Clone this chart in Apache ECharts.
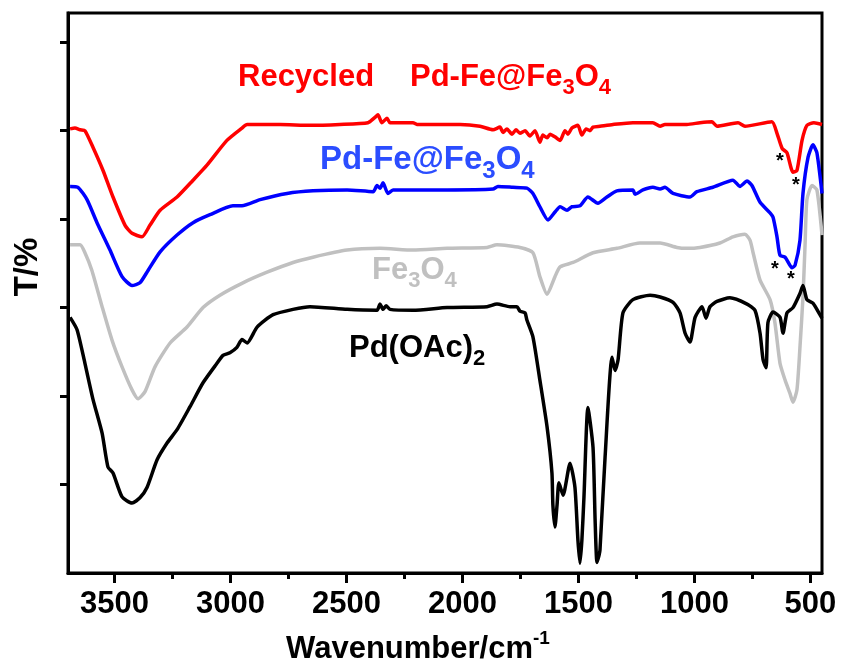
<!DOCTYPE html>
<html>
<head>
<meta charset="utf-8">
<script src="https://cdn.jsdelivr.net/npm/echarts@6/dist/echarts.min.js"></script>
<style>
  html, body { margin: 0; padding: 0; background: #ffffff; }
  #chart { width: 842px; height: 665px; }
</style>
</head>
<body>
<div id="chart"></div>
<script>
// FTIR transmittance spectra (arbitrary offset units), wavenumber in cm^-1

const recycledWn = [3691,3670,3648,3627,3592,3549,3506,3454,3424,3381,3347,3303,3230,3161,3101,3015,2950,2928,2786,2657,2528,2407,2377,2364,2347,2325,2312,2213,2196,2010,1924,1868,1838,1825,1808,1786,1769,1752,1730,1709,1687,1666,1653,1635,1622,1601,1579,1558,1545,1528,1502,1485,1467,1450,1437,1407,1351,1265,1179,1148,1127,1032,976,924,903,812,782,666,644,622,601,575,558,536,515,485,450];
const recycledT  = [502,503,501,500,481,455,425,393,384,380,393,410,425,444,461,489,503,507,507,506,507,509,515,518,509,514,509,509,507,507,505,501,504,498,502,496,501,497,500,494,500,487,495,492,496,493,489,500,496,503,506,495,502,500,504,505,507,509,509,505,507,507,509,510,505,509,505,510,497,480,475,453,455,489,506,509,507];

const catalystWn = [3691,3657,3618,3575,3519,3467,3424,3390,3355,3303,3230,3161,3088,2989,2950,2872,2756,2644,2497,2385,2368,2355,2342,2321,2299,2066,1868,1847,1782,1722,1696,1666,1631,1601,1579,1549,1528,1493,1459,1416,1377,1334,1265,1256,1222,1179,1148,1127,1092,1019,989,920,834,804,773,752,717,674,661,644,631,609,579,566,545,532,510,489,472,450];
const catalystT  = [437,436,422,396,365,335,325,328,342,363,382,396,405,415,415,422,429,432,433,431,438,435,441,429,433,433,434,437,436,435,429,414,399,408,414,410,414,415,425,418,425,432,433,428,433,436,434,436,429,425,431,436,444,437,443,438,419,407,402,380,359,357,345,348,376,429,470,484,475,429];

const magnetiteWn = [3691,3648,3627,3597,3553,3510,3467,3424,3398,3368,3325,3260,3187,3118,3045,2946,2842,2730,2644,2497,2355,2213,2066,1894,1851,1752,1696,1666,1635,1601,1579,1523,1437,1334,1235,1148,1075,1032,976,890,834,782,760,747,717,674,653,631,609,588,575,558,545,532,523,515,493,472,450];
const magnetiteT  = [371,371,362,342,301,263,233,207,197,205,233,260,278,300,314,328,340,351,357,365,367,365,367,368,371,368,362,335,315,335,346,351,362,367,373,373,368,367,368,373,380,383,376,362,331,309,283,237,218,203,193,207,255,312,371,422,438,433,382];

const acetateWn = [3691,3661,3627,3592,3553,3528,3506,3467,3424,3390,3359,3316,3273,3230,3174,3118,3058,3032,3002,2972,2950,2928,2885,2816,2730,2657,2497,2368,2355,2342,2329,2312,2213,2066,1894,1851,1795,1765,1752,1730,1722,1696,1666,1635,1614,1610,1601,1592,1584,1566,1536,1515,1502,1493,1485,1476,1459,1437,1428,1420,1411,1407,1385,1355,1342,1329,1308,1265,1191,1148,1092,1062,1040,1019,997,967,950,933,903,847,773,739,717,704,691,683,661,631,618,601,575,545,532,515,489,459,450];
const acetateT  = [289,275,237,196,158,120,113,86,79,85,97,128,147,162,188,215,237,246,249,255,264,260,278,292,298,301,298,297,304,298,302,298,297,300,301,304,301,301,296,294,286,267,218,165,113,77,52,77,102,88,124,97,37,11,37,86,187,142,60,12,20,26,131,244,229,241,294,309,314,312,306,294,271,261,289,301,288,301,307,311,304,297,271,241,232,283,295,289,271,294,300,316,325,309,305,292,288];

const xMajorTicks = [3500, 3000, 2500, 2000, 1500, 1000, 500];
const xMinorTicks = [3250, 2750, 2250, 1750, 1250, 750];
const yTicks = [100, 200, 300, 400, 500, 600];

const FONT = '"Liberation Sans", Arial, Helvetica, sans-serif';
const RED = '#ff0000', BLUE = '#0000ff', GRAY = '#c0c0c0', BLACK = '#000000';
const LABEL_BLUE = '#2b4dff';

function pairs(xs, ys) { return xs.map((x, i) => [x, ys[i]]); }

function spectrum(name, xs, ys, color, z) {
  return {
    name: name, type: 'line', data: pairs(xs, ys),
    showSymbol: false, smooth: 0.2, z: z,
    lineStyle: { color: color, width: 3.5 },
    emphasis: { disabled: true }
  };
}

// main text plus subscripts/superscripts, rendered as rich text
function richStyle(size, color) {
  return {
    m: { fontSize: size, fontWeight: 'bold', fontFamily: FONT, fill: color },
    s: { fontSize: Math.round(size * 0.72), fontWeight: 'bold', fontFamily: FONT, fill: color, padding: [22, 0, 0, 0] },
    p: { fontSize: Math.round(size * 0.62), fontWeight: 'bold', fontFamily: FONT, fill: color, padding: [0, 0, 20, 0] }
  };
}

function label(x, y, text, size, color) {
  return {
    type: 'text', x: x, y: y, z: 100,
    style: { text: text, rich: richStyle(size, color), align: 'left', verticalAlign: 'middle' }
  };
}

function star(x, y) {
  return {
    type: 'text', x: x, y: y, z: 100,
    style: { text: '*', fontSize: 20, fontWeight: 'bold', fontFamily: FONT, fill: BLACK, align: 'center', verticalAlign: 'middle' }
  };
}

const chart = echarts.init(document.getElementById('chart'), null, { renderer: 'canvas' });

chart.setOption({
  animation: false,
  backgroundColor: '#ffffff',
  grid: { left: 68, right: 20, top: 13, bottom: 92, show: true, borderColor: BLACK, borderWidth: 3, backgroundColor: 'transparent' },
  xAxis: [
    {
      type: 'value', inverse: true, min: 450, max: 3700, position: 'bottom',
      axisLine: { show: true, onZero: false, lineStyle: { color: BLACK, width: 3 } },
      axisTick: { show: true, inside: false, length: 10, customValues: xMajorTicks, lineStyle: { color: BLACK, width: 3 } },
      axisLabel: {
        show: true, customValues: xMajorTicks, margin: 16, fontSize: 31, fontWeight: 'bold', fontFamily: FONT, color: BLACK,
        formatter: v => String(v)
      },
      splitLine: { show: false }
    },
    {
      type: 'value', inverse: true, min: 450, max: 3700, position: 'bottom', offset: 0,
      axisLine: { show: false, onZero: false },
      axisTick: { show: true, inside: false, length: 6, customValues: xMinorTicks, lineStyle: { color: BLACK, width: 3 } },
      axisLabel: { show: false },
      splitLine: { show: false }
    }
  ],
  yAxis: {
    type: 'value', min: 0, max: 633,
    axisLine: { show: true, onZero: false, lineStyle: { color: BLACK, width: 3 } },
    axisTick: { show: true, inside: false, length: 8, customValues: yTicks, lineStyle: { color: BLACK, width: 3 } },
    axisLabel: { show: false },
    splitLine: { show: false }
  },
  series: [
    spectrum('Fe3O4', magnetiteWn, magnetiteT, GRAY, 2),
    spectrum('Pd(OAc)2', acetateWn, acetateT, BLACK, 3),
    spectrum('Pd-Fe@Fe3O4', catalystWn, catalystT, BLUE, 4),
    spectrum('Recycled Pd-Fe@Fe3O4', recycledWn, recycledT, RED, 5)
  ],
  graphic: [
    label(238, 77, '{m|Recycled}', 31, RED),
    label(410, 77, '{m|Pd-Fe@Fe}{s|3}{m|O}{s|4}', 31, RED),
    label(320, 160, '{m|Pd-Fe@Fe}{s|3}{m|O}{s|4}', 33, LABEL_BLUE),
    label(372, 270, '{m|Fe}{s|3}{m|O}{s|4}', 31, GRAY),
    label(349, 348, '{m|Pd(OAc)}{s|2}', 31, BLACK),
    star(780, 161), star(796, 185), star(775, 269), star(791, 279),
    {
      type: 'text', x: 418, y: 649, z: 100,
      style: { text: '{m|Wavenumber/cm}{p|-1}', rich: richStyle(31, BLACK), align: 'center', verticalAlign: 'middle' }
    },
    {
      type: 'text', x: 28, y: 267, rotation: Math.PI / 2, z: 100,
      style: { text: 'T/%', fontSize: 33, fontWeight: 'bold', fontFamily: FONT, fill: BLACK, align: 'center', verticalAlign: 'middle' }
    }
  ]
});
</script>
</body>
</html>
